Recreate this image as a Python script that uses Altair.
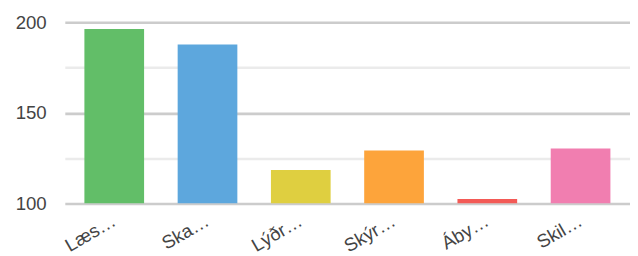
import altair as alt
import pandas as pd

categories = ["Læs…", "Ska…", "Lýðr…", "Skýr…", "Áby…", "Skil…"]
values = [196.3, 187.7, 118.5, 129.3, 102.5, 130.4]
colors = ["#62be68", "#5da7dd", "#dfcf40", "#fda43b", "#f35a56", "#f17eb0"]

df = pd.DataFrame({"cat": categories, "val": values})

FONT = "Liberation Sans"

chart = alt.Chart(df).mark_bar(clip=True).encode(
    x=alt.X("cat:N", sort=categories, title=None,
            scale=alt.Scale(paddingInner=0.36, paddingOuter=0.21),
            axis=alt.Axis(labelAngle=-30, labelAlign="right", labelBaseline="middle",
                          labelPadding=16, ticks=False, domain=False, grid=False,
                          labelFont=FONT, labelFontSize=19, labelColor="#444444")),
    y=alt.Y("val:Q", title=None,
            scale=alt.Scale(domain=[100, 200], zero=False, nice=False),
            axis=alt.Axis(values=[100, 125, 150, 175, 200], ticks=False, domain=False,
                          labelExpr="datum.value % 50 === 0 ? datum.label : ''",
                          gridColor=alt.condition("datum.value % 50 === 0", alt.value("#cccccc"), alt.value("#ebebeb")),
                          gridWidth=2.6, labelPadding=19,
                          labelFont=FONT, labelFontSize=19, labelColor="#444444")),
    y2=alt.datum(100),
    color=alt.Color("cat:N", sort=categories, legend=None,
                    scale=alt.Scale(domain=categories, range=colors)),
).properties(
    width=577, height=185,
    autosize=alt.AutoSizeParams(type="none"),
    padding={"left": 58, "top": 12, "right": 0, "bottom": 51},
).configure_view(stroke=None)

chart.save("out.html", embed_options={"renderer": "svg", "actions": False})
